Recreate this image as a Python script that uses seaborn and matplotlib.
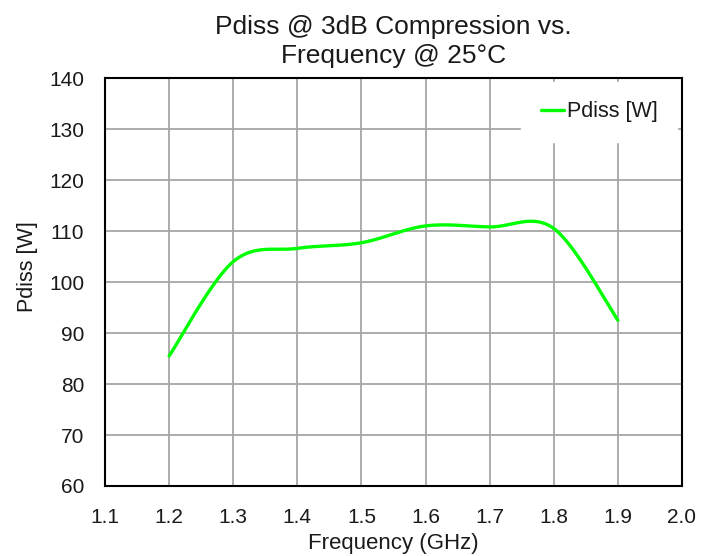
import numpy as np
import pandas as pd
import matplotlib
matplotlib.use("Agg")
import matplotlib.pyplot as plt
import seaborn as sns

# Data
freq_ghz = [1.2, 1.3, 1.4, 1.5, 1.6, 1.7, 1.8, 1.9]
pdiss_w = [85.5, 104.0, 106.6, 107.7, 111.0, 110.8, 110.5, 92.5]
x_ticks = [1.1, 1.2, 1.3, 1.4, 1.5, 1.6, 1.7, 1.8, 1.9, 2.0]
y_ticks = [60, 70, 80, 90, 100, 110, 120, 130, 140]


def excel_smooth(xs, ys, n=40):
    """Excel-style smoothed line (Catmull-Rom Bezier) through the data points."""
    P = np.column_stack([xs, ys]).astype(float)
    P = np.vstack([P[0], P, P[-1]])
    out = []
    for i in range(1, len(P) - 2):
        p0, p1, p2, p3 = P[i - 1], P[i], P[i + 1], P[i + 2]
        c1 = p1 + (p2 - p0) / 6.0
        c2 = p2 - (p3 - p1) / 6.0
        t = np.linspace(0, 1, n, endpoint=(i == len(P) - 3))[:, None]
        seg = ((1 - t) ** 3) * p1 + 3 * ((1 - t) ** 2) * t * c1 + 3 * (1 - t) * t ** 2 * c2 + t ** 3 * p2
        out.append(seg)
    out = np.vstack(out)
    return out[:, 0], out[:, 1]


sx, sy = excel_smooth(freq_ghz, pdiss_w)
df = pd.DataFrame({"Frequency (GHz)": sx, "Pdiss [W]": sy, "series": "Pdiss [W]"})

sns.set_theme(style="white")
plt.rcParams["font.family"] = ["Liberation Sans", "DejaVu Sans"]

fig = plt.figure(figsize=(7.15, 5.56), dpi=100)
ax = fig.add_axes([0.1469, 0.1259, 0.8069, 0.7338])

sns.lineplot(data=df, x="Frequency (GHz)", y="Pdiss [W]", hue="series",
             palette=["#00FF00"], linewidth=2.4, sort=False, estimator=None, ax=ax)

ax.set_xlim(1.1, 2.0)
ax.set_ylim(60, 140)
ax.set_xticks(x_ticks)
ax.set_xticklabels([f"{v:.1f}" for v in x_ticks])
ax.set_yticks(y_ticks)
ax.set_yticklabels([str(v) for v in y_ticks])
ax.tick_params(axis="both", labelsize=15, length=0, colors="#1a1a1a")
ax.tick_params(axis="x", pad=16)
ax.tick_params(axis="y", pad=15)
ax.grid(True, color="#A6A6A6", linewidth=1.3)
ax.set_axisbelow(True)
for s in ax.spines.values():
    s.set_color("black")
    s.set_linewidth(1.5)

ax.set_xlabel("Frequency (GHz)", fontsize=16, labelpad=4, color="#1a1a1a")
ax.set_ylabel("Pdiss [W]", fontsize=15.5, color="#1a1a1a")
ax.yaxis.set_label_coords(-0.116, 0.537)
ax.set_title("Pdiss @ 3dB Compression vs.\nFrequency @ 25°C", fontsize=19,
             pad=11, color="#1a1a1a", linespacing=1.25)

leg = ax.legend(loc="upper right", bbox_to_anchor=(0.991, 0.99), fontsize=15.5,
                frameon=True, fancybox=False, handlelength=1.1, handletextpad=0.1,
                borderpad=0.9, borderaxespad=0.0)
leg.get_frame().set_facecolor("white")
leg.get_frame().set_edgecolor("white")
leg.get_frame().set_alpha(1.0)
for t in leg.get_texts():
    t.set_color("#1a1a1a")

fig.savefig("out.png", dpi=100)
